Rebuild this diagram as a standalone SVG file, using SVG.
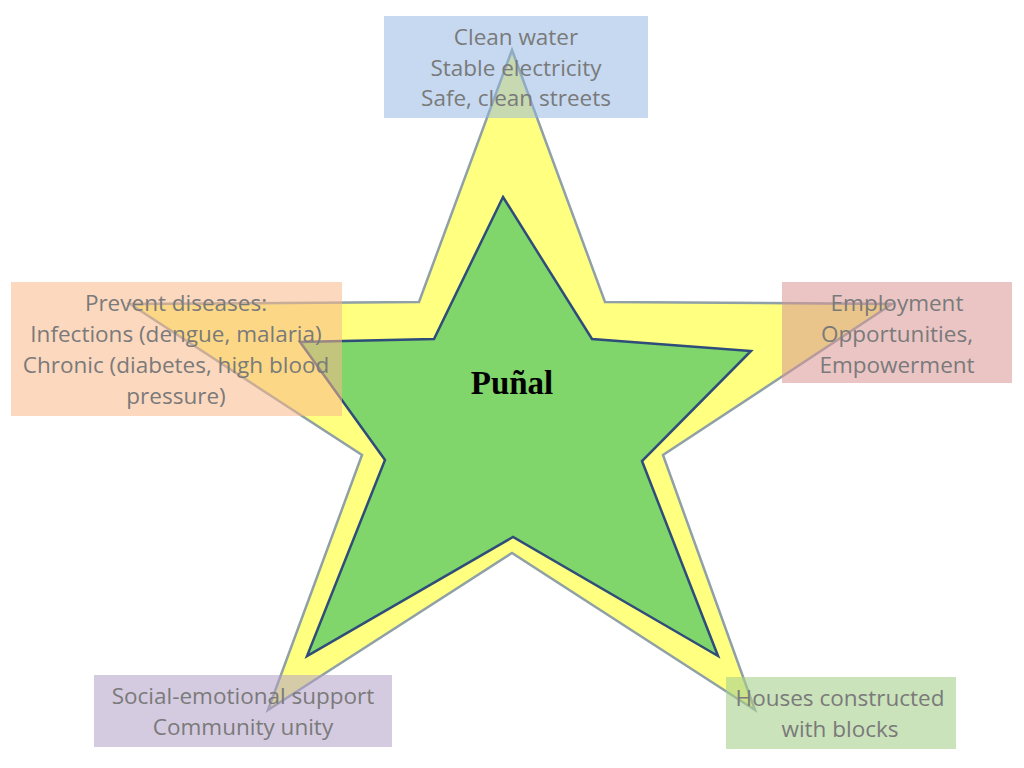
<svg xmlns="http://www.w3.org/2000/svg" width="1024" height="768" viewBox="0 0 1024 768">
<style>
.lbl{font-family:"Open Sans","Noto Sans",sans-serif;font-size:22.5px;fill:#7a7a7a;text-anchor:middle}
.title{font-family:"Liberation Serif","DejaVu Serif",serif;font-size:33px;font-weight:bold;fill:#000;text-anchor:middle}
</style>
<rect width="1024" height="768" fill="#fff"/>
<g id="outer-star">
<polygon points="512,50 605,302 892,304 663,455 755,710 512,553 268,710 362,455 130,304 419,302" fill="#ffff80" stroke="#8fa0a6" stroke-width="2.5" stroke-linejoin="miter"/>
</g>
<g id="inner-star">
<polygon points="503,197 592,339 751,351 642,461 718,656 513,537 307,656 385,460 300,342 434,339" fill="#80d56b" stroke="#2e4d7a" stroke-width="2.5"/>
<text class="title" x="512" y="394">Puñal</text>
</g>
<g id="box-infrastructure">
<rect x="384" y="16" width="264" height="102" fill="#8db3e2" fill-opacity="0.5"/>
<text class="lbl" x="516" y="45">Clean water</text>
<text class="lbl" x="516" y="76">Stable electricity</text>
<text class="lbl" x="516" y="106">Safe, clean streets</text>
</g>
<g id="box-health">
<rect x="11" y="282" width="331" height="134" fill="#fab88a" fill-opacity="0.55"/>
<text class="lbl" x="176" y="311">Prevent diseases:</text>
<text class="lbl" x="176" y="342">Infections (dengue, malaria)</text>
<text class="lbl" x="176" y="373">Chronic (diabetes, high blood</text>
<text class="lbl" x="176" y="404">pressure)</text>
</g>
<g id="box-employment">
<rect x="782" y="282" width="230" height="101" fill="#d99594" fill-opacity="0.55"/>
<text class="lbl" x="897" y="311">Employment</text>
<text class="lbl" x="897" y="342">Opportunities,</text>
<text class="lbl" x="897" y="373">Empowerment</text>
</g>
<g id="box-social">
<rect x="94" y="675" width="298" height="72" fill="#b2a1c7" fill-opacity="0.55"/>
<text class="lbl" x="243" y="704">Social-emotional support</text>
<text class="lbl" x="243" y="735">Community unity</text>
</g>
<g id="box-housing">
<rect x="726" y="677" width="230" height="72" fill="#a9d18e" fill-opacity="0.6"/>
<text class="lbl" x="840" y="706">Houses constructed</text>
<text class="lbl" x="840" y="737">with blocks</text>
</g>
<g id="connectors"></g>
</svg>
